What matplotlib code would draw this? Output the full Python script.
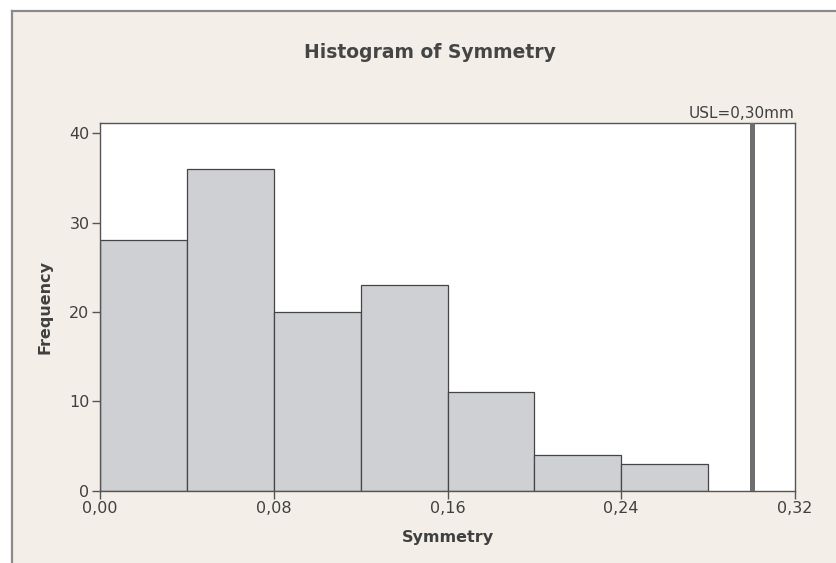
import matplotlib
matplotlib.use("Agg")
import matplotlib.pyplot as plt
from matplotlib.lines import Line2D
from matplotlib.patches import Rectangle

# ---- data ----
bin_edges = [0.00, 0.04, 0.08, 0.12, 0.16, 0.20, 0.24, 0.28]
counts = [28, 36, 20, 23, 11, 4, 3]
x_ticks = [0.00, 0.08, 0.16, 0.24, 0.32]
x_tick_labels = ["0,00", "0,08", "0,16", "0,24", "0,32"]
y_ticks = [0, 10, 20, 30, 40]
usl_value = 0.30
usl_label = "USL=0,30mm"
title = "Histogram of Symmetry"
x_label = "Symmetry"
y_label = "Frequency"

W, H = 836, 563
DPI = 100
BG = "#F3EFE8"
TXT = "#404040"
plt.rcParams['font.family'] = ['DejaVu Sans']

fig = plt.figure(figsize=(W / DPI, H / DPI), dpi=DPI, facecolor="white")

def fx(px):
    return px / W
def fy(py):
    return 1 - py / H

# beige panel with left/top border
fig.patches.append(Rectangle((fx(11.5), 0), 1 - fx(11.5), fy(10.5), transform=fig.transFigure,
                             facecolor=BG, edgecolor="none", zorder=-10))
fig.lines.append(Line2D([fx(11.5), fx(11.5)], [0, fy(10.5)], transform=fig.transFigure,
                        color="#8A8A8A", lw=1.6, zorder=-9))
fig.lines.append(Line2D([fx(11.5), 1], [fy(10.5), fy(10.5)], transform=fig.transFigure,
                        color="#8A8A8A", lw=1.6, zorder=-9))

left, right, top, bottom = 100, 795, 123.3, 490.7
ax = fig.add_axes([fx(left), fy(bottom), (right - left) / W, (bottom - top) / H])
ax.set_zorder(1)
ax.set_facecolor("white")

widths = [bin_edges[i + 1] - bin_edges[i] for i in range(len(counts))]
ax.bar(bin_edges[:-1], counts, width=widths, align="edge", color="#CFD0D3",
       edgecolor="#454545", linewidth=0.9, zorder=2)

ax.axvline(usl_value, color="#6E6E72", lw=3.6, zorder=3)

ax.set_xlim(0, 0.32)
ax.set_ylim(0, 41.1)
ax.set_xticks(x_ticks)
ax.set_xticklabels(x_tick_labels)
ax.set_yticks(y_ticks)

for s in ax.spines.values():
    s.set_color("#555555")
    s.set_linewidth(1.0)

ax.tick_params(axis="both", direction="out", length=6, width=1, color="#555555",
               labelcolor=TXT, labelsize=11.5, pad=1.5)

ax.set_xlabel(x_label, fontsize=11.5, fontweight="bold", color=TXT, labelpad=10)
ax.set_ylabel(y_label, fontsize=11.5, fontweight="bold", color=TXT, labelpad=12)

ax.text(1.0, 1.005, usl_label, transform=ax.transAxes, ha="right", va="bottom",
        fontsize=11, color=TXT)

fig.text(fx(430), fy(52), title, ha="center", va="center", fontsize=13.5,
         fontweight="bold", color="#454545")

fig.savefig("out.png", dpi=DPI, facecolor="white")
